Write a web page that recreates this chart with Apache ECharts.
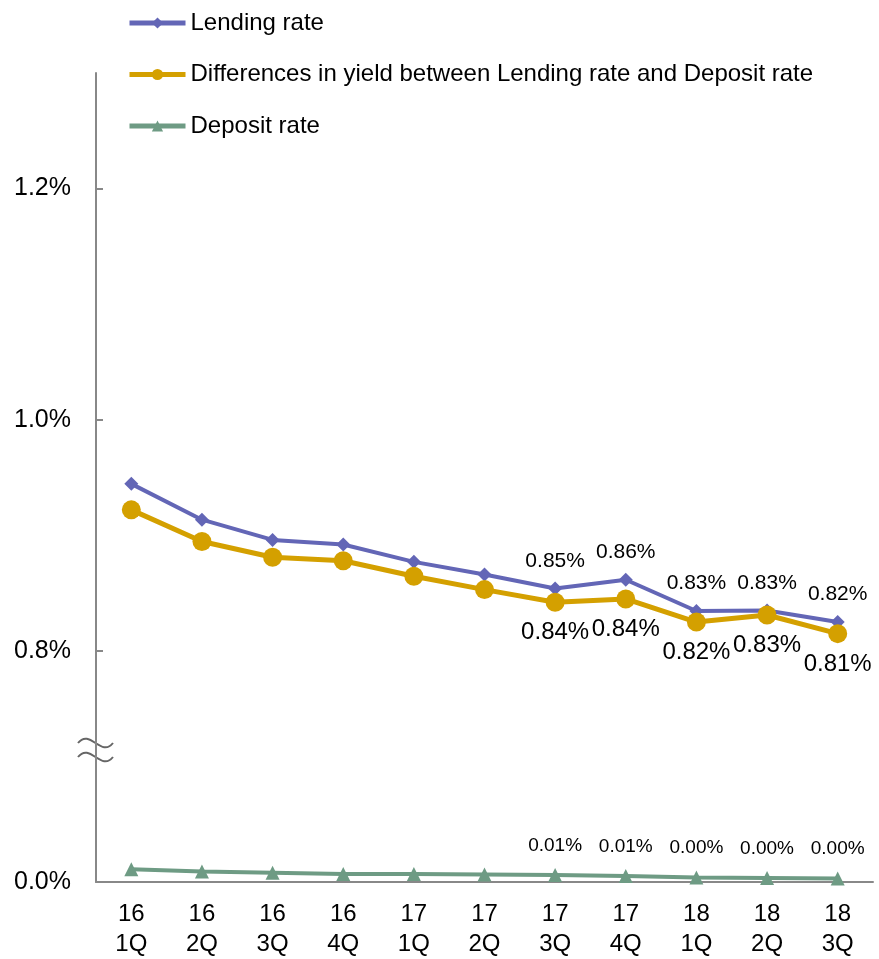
<!DOCTYPE html>
<html><head><meta charset="utf-8">
<script src="https://cdn.jsdelivr.net/npm/echarts@6/dist/echarts.min.js"></script>
<style>html,body{margin:0;padding:0;background:#fff;overflow:hidden}#c{width:879px;height:959px}</style>
</head><body><div id="c"></div>
<script>
const categories = ['16\n1Q','16\n2Q','16\n3Q','16\n4Q','17\n1Q','17\n2Q','17\n3Q','17\n4Q','18\n1Q','18\n2Q','18\n3Q'];
const lendingRate = [0.9445,0.9135,0.896,0.892,0.877,0.866,0.854,0.8615,0.8345,0.8349,0.8249];
const yieldDiff = [0.922,0.8946,0.881,0.878,0.8645,0.853,0.842,0.8449,0.8249,0.831,0.8149];
const depositRate = [0.011,0.009,0.008,0.007,0.007,0.0065,0.006,0.0052,0.004,0.0035,0.003];
const labelFrom = 6;
const FONT = 'Liberation Sans, Arial, sans-serif';

function items(arr){ return arr.map((v,i)=>({value:v, label:{show:i>=labelFrom}})); }
const pct = p => p.value.toFixed(2)+'%';

const chart = echarts.init(document.getElementById('c'));
chart.setOption({
  animation:false,
  textStyle:{fontFamily:FONT},
  legend:{
    left:122, top:6, orient:'vertical', itemGap:27.5, itemWidth:56, itemHeight:14,
    lineStyle:{width:5},
    textStyle:{fontSize:24, color:'#000', fontFamily:FONT},
    data:['Lending rate','Differences in yield between Lending rate and Deposit rate','Deposit rate']
  },
  grid:{left:96, right:6, top:73, height:816},
  xAxis:{
    type:'category', data:categories, boundaryGap:true,
    axisLine:{lineStyle:{color:'#888', width:2}},
    axisTick:{show:false},
    axisLabel:{fontSize:24, color:'#000', lineHeight:30, margin:17, fontFamily:FONT}
  },
  yAxis:[{
    type:'value', min:0.6, max:1.3, interval:0.2,
    axisLine:{show:true, lineStyle:{color:'#888', width:2}},
    axisTick:{show:true, inside:true, length:7, lineStyle:{color:'#888', width:2}},
    splitLine:{show:false},
    axisLabel:{fontSize:25, color:'#000', margin:25, showMaxLabel:false, fontFamily:FONT,
      formatter:v=> v<0.7 ? '0.0%' : v.toFixed(1)+'%'}
  },{
    type:'value', min:0, max:0.7, show:false, splitLine:{show:false}
  }],
  series:[{
    name:'Lending rate', type:'line', data:items(lendingRate),
    symbol:'diamond', symbolSize:14, color:'#6366B6',
    lineStyle:{width:4},
    label:{position:'top', distance:10, fontSize:21, color:'#000', formatter:pct, fontFamily:FONT}
  },{
    name:'Differences in yield between Lending rate and Deposit rate', type:'line', data:items(yieldDiff),
    symbol:'circle', symbolSize:19, color:'#D4A000',
    lineStyle:{width:5},
    label:{position:'bottom', distance:9, fontSize:24, color:'#000', formatter:pct, fontFamily:FONT}
  },{
    name:'Deposit rate', type:'line', yAxisIndex:1, data:items(depositRate),
    symbol:'triangle', symbolSize:14, color:'#6E9B84',
    lineStyle:{width:4},
    label:{position:'top', distance:13, fontSize:19, color:'#000', formatter:pct, fontFamily:FONT}
  }],
  graphic:[
    {type:'bezierCurve', shape:{x1:78,y1:743,cpx1:90,cpy1:728,cpx2:101,cpy2:758,x2:113,y2:743}, style:{fill:null, stroke:'#666', lineWidth:2}},
    {type:'bezierCurve', shape:{x1:78,y1:757,cpx1:90,cpy1:742,cpx2:101,cpy2:772,x2:113,y2:757}, style:{fill:null, stroke:'#666', lineWidth:2}}
  ]
});
</script></body></html>
